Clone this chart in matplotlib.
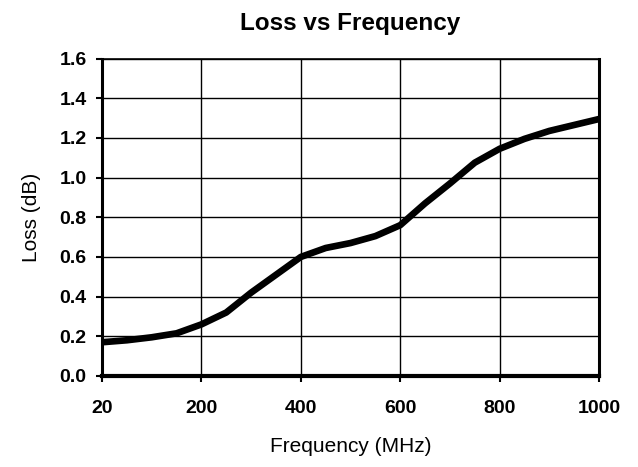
import numpy as np
import matplotlib
matplotlib.use("Agg")
import matplotlib.pyplot as plt

# Excel-style category axis: 20 MHz then every 50 MHz up to 1000
freq = [20, 50, 100, 150, 200, 250, 300, 350, 400, 450, 500,
        550, 600, 650, 700, 750, 800, 850, 900, 950, 1000]
loss = [0.17, 0.18, 0.195, 0.215, 0.26, 0.32, 0.42, 0.51, 0.60, 0.645, 0.67,
        0.705, 0.76, 0.87, 0.97, 1.075, 1.145, 1.195, 1.235, 1.265, 1.295]
tick_labels = [20, 200, 400, 600, 800, 1000]

plt.rcParams['font.family'] = ['Liberation Sans', 'DejaVu Sans']

fig = plt.figure(figsize=(6.38, 4.67), dpi=100)
ax = fig.add_axes([0.1599, 0.1949, 0.779, 0.6798])

pos = np.arange(len(freq))
ax.plot(pos, loss, color="black", lw=4.8, solid_capstyle="butt",
        solid_joinstyle="round")

tick_pos = [freq.index(f) for f in tick_labels]
ax.set_xticks(tick_pos)
ax.set_xticklabels([str(t) for t in tick_labels])
ax.set_xlim(0, len(freq) - 1)
ax.set_ylim(0, 1.6)
ax.set_yticks(np.arange(0, 1.61, 0.2))
ax.set_yticklabels(["%.1f" % v for v in np.arange(0, 1.61, 0.2)])

ax.grid(True, color="black", lw=1.0)
ax.tick_params(axis="both", direction="out", length=4.5, width=1.5,
               labelsize=14, colors="black")
ax.tick_params(axis="x", pad=12.5)
ax.tick_params(axis="y", pad=6.5)
for lab in ax.get_xticklabels() + ax.get_yticklabels():
    lab.set_fontweight("bold")

ax.spines["left"].set_linewidth(2.2)
ax.spines["bottom"].set_linewidth(3)
ax.spines["right"].set_linewidth(2.2)
ax.spines["top"].set_linewidth(1.2)

ax.set_title("Loss vs Frequency", fontsize=17.5, fontweight="bold", pad=20.5)
ax.set_xlabel("Frequency (MHz)", fontsize=15, labelpad=15)
ax.set_ylabel("Loss (dB)", fontsize=15, labelpad=13.5)

fig.savefig("out.png", dpi=100)
